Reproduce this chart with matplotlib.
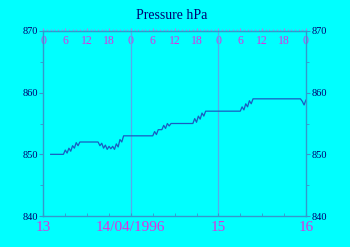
import matplotlib
matplotlib.use('Agg')
import matplotlib.pyplot as plt
from matplotlib.ticker import MultipleLocator

# hours since 13/04/1996 00:00
hours = [2, 5.5, 6, 6.5, 7, 7.5, 8, 8.5, 9, 9.5, 10,
         15, 15.5, 16, 16.5, 17, 17.5, 18, 18.5, 19, 19.5, 20, 20.5, 21, 21.5, 22,
         30, 30.5, 31, 31.5, 32.5, 33, 33.5, 34, 34.5, 35,
         41, 41.5, 42, 42.5, 43, 43.5, 44, 44.5,
         54, 54.5, 55, 55.5, 56, 56.5, 57, 57.5,
         70.5, 71, 71.5, 72]
pressure = [850.0, 850.0, 850.7, 850.2, 851.0, 850.5, 851.4, 851.0, 851.9, 851.4, 852.0,
            852.0, 851.4, 851.8, 851.0, 851.5, 850.8, 851.3, 850.9, 851.3, 850.8, 851.7, 851.2, 852.4, 852.0, 853.0,
            853.0, 853.7, 853.2, 854.0, 854.0, 854.7, 854.2, 855.0, 854.6, 855.0,
            855.0, 855.8, 855.2, 856.2, 855.7, 856.7, 856.2, 857.0,
            857.0, 857.7, 857.2, 858.2, 857.7, 858.7, 858.2, 859.0,
            859.0, 858.6, 858.0, 858.8]

day_ticks = [0, 24, 48, 72]
day_labels = ['13', '14/04/1996', '15', '16']
hour_ticks = list(range(0, 73, 6))
hour_labels = [str(h % 24) for h in hour_ticks]
y_ticks = [840, 850, 860, 870]

BG = '#00ffff'
NAVY = '#000070'
MAG = '#e030e0'
AX = '#3399cc'

fig = plt.figure(figsize=(3.5, 2.47), dpi=100, facecolor=BG)
ax = fig.add_axes([0.124, 0.1255, 0.75, 0.749])
ax.set_facecolor(BG)
ax.set_xlim(0, 72)
ax.set_ylim(840, 870)
for d in day_ticks[1:-1]:
    ax.axvline(d, color='#55aaee', lw=0.9, zorder=1)
ax.plot(hours, pressure, color='#1a5cc0', lw=0.9, zorder=2)

for s in ax.spines.values():
    s.set_color(AX)
    s.set_linewidth(1.0)

# y axis on both sides
ax.set_yticks(y_ticks)
ax.yaxis.set_minor_locator(MultipleLocator(5))
ax.tick_params(axis='y', which='both', left=True, right=True, labelleft=True,
               labelright=True, direction='out', colors=AX, labelcolor=NAVY,
               labelsize=7.5, pad=1)
ax.tick_params(axis='y', which='major', length=3)
ax.tick_params(axis='y', which='minor', length=2)
for lab in ax.get_yticklabels():
    lab.set_family('Liberation Serif')

# bottom: days
ax.set_xticks(day_ticks)
ax.set_xticklabels(day_labels, family='Liberation Serif')
ax.xaxis.set_minor_locator(MultipleLocator(6))
ax.tick_params(axis='x', which='both', direction='in', colors=AX,
               labelcolor=MAG, labelsize=11, pad=3.5)
ax.tick_params(axis='x', which='major', length=2)
ax.tick_params(axis='x', which='minor', length=2)

# top: hours
top = ax.secondary_xaxis('top')
top.set_xticks(hour_ticks)
top.set_xticklabels(hour_labels, family='Liberation Serif')
top.xaxis.set_minor_locator(MultipleLocator(1))
top.tick_params(axis='x', which='both', direction='out', colors='#b080e8',
                labelcolor=MAG, labelsize=8.5)
top.tick_params(axis='x', which='major', length=2.5, pad=-14)
top.tick_params(axis='x', which='minor', length=1.2)
top.spines['top'].set_color(AX)

fig.text(0.49, 0.938, 'Pressure hPa', ha='center', va='center',
         color=NAVY, family='Liberation Serif', size=10)

fig.savefig('out.png', dpi=100, facecolor=BG)
